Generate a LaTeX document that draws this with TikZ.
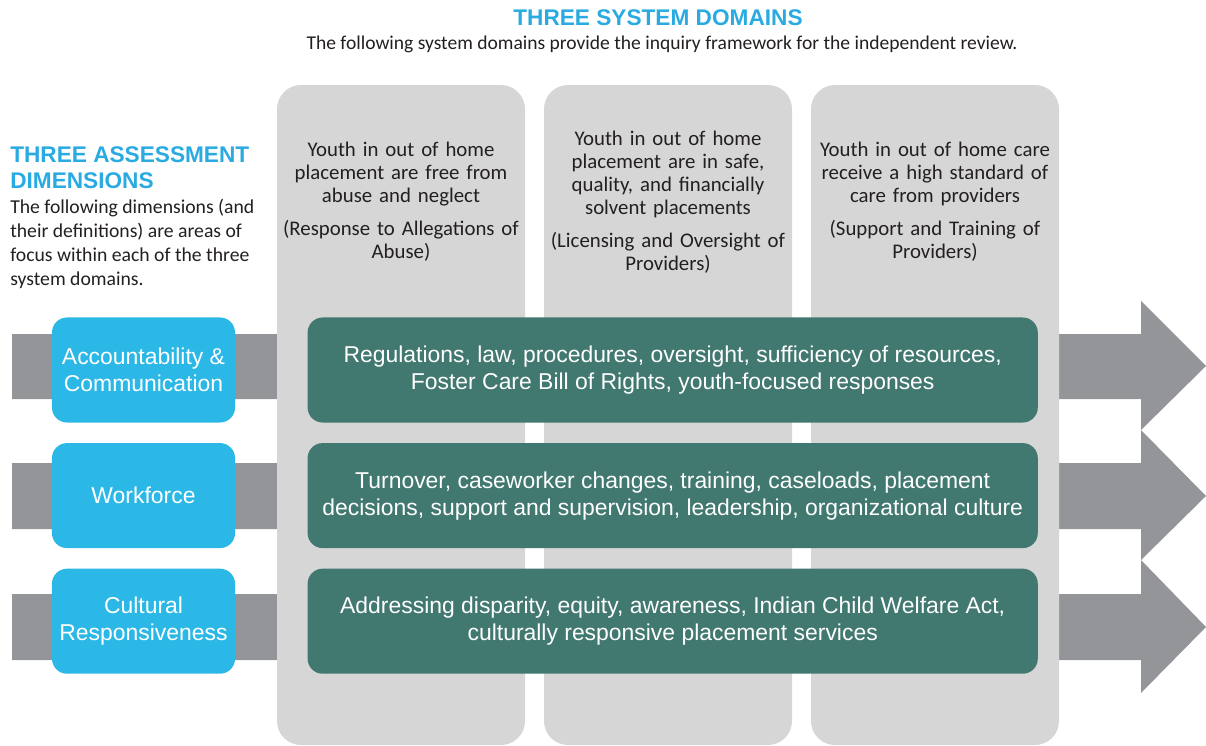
\documentclass[tikz,border=0pt]{standalone}
\usepackage{fontspec}
\setmainfont{Carlito}
\newfontfamily\arialfont{Liberation Sans}
\usetikzlibrary{positioning}
\definecolor{headblue}{HTML}{29ABE2}
\definecolor{dimblue}{HTML}{2CB8E6}
\definecolor{topicgreen}{HTML}{41786F}
\definecolor{arrowgray}{HTML}{939598}
\definecolor{colgray}{HTML}{D6D6D6}
\definecolor{textdark}{HTML}{231F20}

\begin{document}
\begin{tikzpicture}[x=0.025cm,y=-0.025cm,
	dimbox/.style={rounded corners=0.375cm,fill=dimblue,text=white,minimum width=4.575cm,minimum height=2.625cm,align=center,inner sep=0pt,font=\arialfont\fontsize{16.3}{19.2}\selectfont},
	topicbox/.style={rounded corners=0.375cm,fill=topicgreen,text=white,minimum width=18.25cm,minimum height=2.625cm,align=center,inner sep=0pt,font=\arialfont\fontsize{16.3}{19.2}\selectfont},
	domtext/.style={align=center,text width=6.2cm,inner sep=0pt,text=textdark,font=\fontsize{14.8}{16.4}\selectfont},
	headline/.style={inner sep=0pt,text=headblue,font=\arialfont\bfseries\fontsize{16.1}{18.5}\selectfont}]
	\useasboundingbox (0,0) rectangle (1206,745);

	% block arrows behind everything
	\fill[arrowgray] (12,334) -- (1141,334) -- (1141,301) -- (1206,366) -- (1141,430) -- (1141,399) -- (12,399) -- cycle;
	\fill[arrowgray] (12,463) -- (1141,463) -- (1141,430) -- (1206,496) -- (1141,560) -- (1141,529) -- (12,529) -- cycle;
	\fill[arrowgray] (12,594) -- (1141,594) -- (1141,560) -- (1206,627) -- (1141,693) -- (1141,660) -- (12,660) -- cycle;

	% domain columns
	\fill[colgray,rounded corners=0.6cm] (277,85) rectangle (525,745);
	\fill[colgray,rounded corners=0.6cm] (544,85) rectangle (792,745);
	\fill[colgray,rounded corners=0.6cm] (811,85) rectangle (1059,745);

	\node[headline] (domhead) at (658,18) {THREE SYSTEM DOMAINS};
	\node[inner sep=0pt,text=textdark,font=\fontsize{13.9}{16}\selectfont] (domsub) at (662,44)
		{The following system domains provide the inquiry framework for the independent review.};

	\node[headline,align=left,anchor=west] (dimhead) at (10,168) {THREE ASSESSMENT\\DIMENSIONS};
	\node[inner sep=0pt,text=textdark,align=left,anchor=west,font=\fontsize{14}{17.1}\selectfont] (dimsub) at (10,244)
		{The following dimensions (and\\their definitions) are areas of\\focus within each of the three\\system domains.};

	\node[domtext] (abuse) at (401,202) {Youth in out of home\\placement are free from\\abuse and neglect\\[7pt](Response to Allegations of\\Abuse)};
	\node[domtext] (safety) at (668,202) {Youth in out of home\\placement are in safe,\\quality, and financially\\solvent placements\\[7pt](Licensing and Oversight of\\Providers)};
	\node[domtext] (care) at (935,202) {Youth in out of home care\\receive a high standard of\\care from providers\\[7pt](Support and Training of\\Providers)};

	% dimensions and their areas of focus
	\node[dimbox] (acc) at (143.5,370) {Accountability \&\\Communication};
	\node[dimbox] (work) [below=0.5cm of acc] {Workforce};
	\node[dimbox] (cult) [below=0.5cm of work] {Cultural\\Responsiveness};
	\node[topicbox] (accfocus) [right=1.8cm of acc] {Regulations, law, procedures, oversight, sufficiency of resources,\\Foster Care Bill of Rights, youth-focused responses};
	\node[topicbox] (workfocus) [right=1.8cm of work] {Turnover, caseworker changes, training, caseloads, placement\\decisions, support and supervision, leadership, organizational culture};
	\node[topicbox] (cultfocus) [right=1.8cm of cult] {Addressing disparity, equity, awareness, Indian Child Welfare Act,\\culturally responsive placement services};
\end{tikzpicture}
\end{document}
